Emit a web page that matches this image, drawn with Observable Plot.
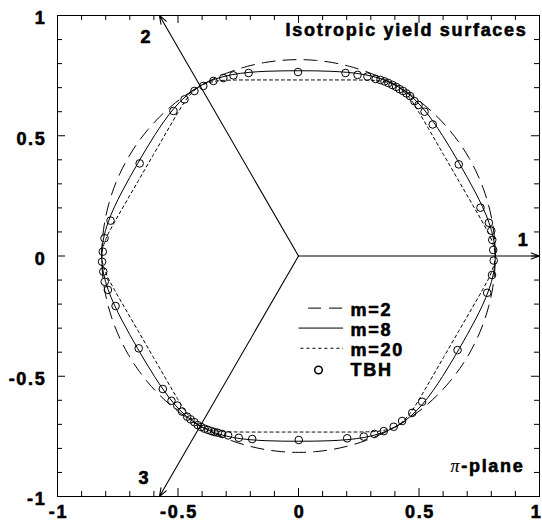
<!DOCTYPE html>
<html><head><meta charset="utf-8">
<script src="https://cdn.jsdelivr.net/npm/d3@7"></script>
<script src="https://cdn.jsdelivr.net/npm/@observablehq/plot@0.6"></script>
<style>body{margin:0;background:#fff}</style>
</head><body><div id="chart"></div>
<script>
// ---- data ----
// polar angle (deg, from axis 1) and radius of each yield locus in the pi-plane
const angles = [0,5,10,15,20,25,30,35,40,45,50,55,60,65,70,75,80,85,90,95,100,105,110,115,120,125,130,135,140,145,150,155,160,165,170,175,180,185,190,195,200,205,210,215,220,225,230,235,240,245,250,255,260,265,270,275,280,285,290,295,300,305,310,315,320,325,330,335,340,345,350,355];
const rM2 = [0.8165,0.8165,0.8165,0.8165,0.8165,0.8165,0.8165,0.8165,0.8165,0.8165,0.8165,0.8165,0.8165,0.8165,0.8165,0.8165,0.8165,0.8165,0.8165,0.8165,0.8165,0.8165,0.8165,0.8165,0.8165,0.8165,0.8165,0.8165,0.8165,0.8165,0.8165,0.8165,0.8165,0.8165,0.8165,0.8165,0.8165,0.8165,0.8165,0.8165,0.8165,0.8165,0.8165,0.8165,0.8165,0.8165,0.8165,0.8165,0.8165,0.8165,0.8165,0.8165,0.8165,0.8165,0.8165,0.8165,0.8165,0.8165,0.8165,0.8165,0.8165,0.8165,0.8165,0.8165,0.8165,0.8165,0.8165,0.8165,0.8165,0.8165,0.8165,0.8165];
const rM8 = [0.8165,0.8125,0.8025,0.7904,0.7798,0.7728,0.7703,0.7728,0.7798,0.7904,0.8025,0.8125,
             0.8165,0.8125,0.8025,0.7904,0.7798,0.7728,0.7703,0.7728,0.7798,0.7904,0.8025,0.8125,
             0.8165,0.8125,0.8025,0.7904,0.7798,0.7728,0.7703,0.7728,0.7798,0.7904,0.8025,0.8125,
             0.8165,0.8125,0.8025,0.7904,0.7798,0.7728,0.7703,0.7728,0.7798,0.7904,0.8025,0.8125,
             0.8165,0.8125,0.8025,0.7904,0.7798,0.7728,0.7703,0.7728,0.7798,0.7904,0.8025,0.8125,
             0.8165,0.8125,0.8025,0.7904,0.7798,0.7728,0.7703,0.7728,0.7798,0.7904,0.8025,0.8125];
const rM20 = [0.8165,0.8027,0.7784,0.7578,0.7433,0.7348,0.7320,0.7348,0.7433,0.7578,0.7784,0.8027,
              0.8165,0.8027,0.7784,0.7578,0.7433,0.7348,0.7320,0.7348,0.7433,0.7578,0.7784,0.8027,
              0.8165,0.8027,0.7784,0.7578,0.7433,0.7348,0.7320,0.7348,0.7433,0.7578,0.7784,0.8027,
              0.8165,0.8027,0.7784,0.7578,0.7433,0.7348,0.7320,0.7348,0.7433,0.7578,0.7784,0.8027,
              0.8165,0.8027,0.7784,0.7578,0.7433,0.7348,0.7320,0.7348,0.7433,0.7578,0.7784,0.8027,
              0.8165,0.8027,0.7784,0.7578,0.7433,0.7348,0.7320,0.7348,0.7433,0.7578,0.7784,0.8027];
// TBH points
const tbhX = [0.808,0.804,0.800,0.790,0.755,0.665,0.557,0.523,0.498,0.481,0.463,0.448,0.434,0.419,0.405,0.390,0.373,0.357,0.340,0.320,0.286,0.245,0.195,-0.002,-0.207,-0.270,-0.312,-0.353,-0.395,-0.432,-0.473,-0.519,-0.659,-0.780,-0.805,-0.812,-0.815,-0.810,-0.804,-0.791,-0.759,-0.663,-0.563,-0.527,-0.503,-0.483,-0.462,-0.448,-0.432,-0.418,-0.404,-0.390,-0.376,-0.362,-0.349,-0.335,-0.317,-0.292,-0.248,-0.192,0.001,0.202,0.271,0.315,0.354,0.395,0.430,0.472,0.513,0.660,0.783,0.803,0.810];
const tbhY = [0.025,0.067,0.105,0.138,0.201,0.381,0.547,0.600,0.628,0.644,0.665,0.676,0.686,0.694,0.703,0.711,0.719,0.726,0.732,0.736,0.746,0.753,0.761,0.765,0.761,0.751,0.740,0.728,0.707,0.686,0.651,0.603,0.385,0.147,0.074,0.018,-0.024,-0.065,-0.107,-0.141,-0.208,-0.384,-0.553,-0.602,-0.622,-0.647,-0.668,-0.679,-0.691,-0.703,-0.711,-0.718,-0.723,-0.728,-0.732,-0.735,-0.740,-0.746,-0.756,-0.761,-0.765,-0.758,-0.751,-0.740,-0.728,-0.710,-0.686,-0.652,-0.606,-0.391,-0.153,-0.079,-0.019];
// principal axes drawn as arrows from the origin
const axisNames = ["1","2","3"];
const axisTipX = [1, -0.577, -0.577];
const axisTipY = [0, 1, -1];
// ticks
const majorTicks = [-1,-0.5,0,0.5,1];
const minorTicks = [-0.9,-0.8,-0.7,-0.6,-0.4,-0.3,-0.2,-0.1,0.1,0.2,0.3,0.4,0.6,0.7,0.8,0.9];
// texts
const seriesNames = ["m=2","m=8","m=20"];
const pointName = "TBH";
const titleText = "Isotropic yield surfaces";
const planeText = "π-plane";

// ---- build ----
const W = 542, H = 521, mT = 15, mR = 3, mB = 25, mL = 57;
const plotW = W - mL - mR, plotH = H - mT - mB;
const FONT = "'Liberation Sans', Arial, Helvetica, sans-serif";
const TXT = {fontSize: 18, fontWeight: "bold", fontFamily: FONT, fill: "black", stroke: "black", strokeWidth: 0.6};
const toXY = (r) => angles.map((a, i) => ({x: r[i] * Math.cos(a * Math.PI / 180), y: r[i] * Math.sin(a * Math.PI / 180)}));
const curves = [toXY(rM2), toXY(rM8), toXY(rM20)];
const dashes = ["13,8", null, "3,3"];
const tbh = tbhX.map((x, i) => ({x, y: tbhY[i]}));

// legend layout (data units)
const legY = [-0.225, -0.308, -0.392, -0.474];
const legX0 = [0.04, 0.0, 0.008], legX1 = 0.185, legTextX = 0.216, legDotX = 0.083;

const labelOff = [[-16,-16],[-13,22],[-15,-18]];
const innerTicks = majorTicks.slice(0, -1);
const lastTick = majorTicks.slice(-1);

const marks = [
  Plot.frame({stroke: "black", strokeWidth: 1}),
  // inward ticks on all four sides
  Plot.ruleX(minorTicks, {x: d => d, insetTop: plotH - 5, stroke: "black"}),
  Plot.ruleX(minorTicks, {x: d => d, insetBottom: plotH - 5, stroke: "black"}),
  Plot.ruleX(majorTicks, {x: d => d, insetTop: plotH - 8, stroke: "black"}),
  Plot.ruleX(majorTicks, {x: d => d, insetBottom: plotH - 8, stroke: "black"}),
  Plot.ruleY(minorTicks, {y: d => d, insetRight: plotW - 5, stroke: "black"}),
  Plot.ruleY(minorTicks, {y: d => d, insetLeft: plotW - 5, stroke: "black"}),
  Plot.ruleY(majorTicks, {y: d => d, insetRight: plotW - 8, stroke: "black"}),
  Plot.ruleY(majorTicks, {y: d => d, insetLeft: plotW - 8, stroke: "black"}),
  // tick labels
  Plot.text(innerTicks, {x: d => d, frameAnchor: "bottom", lineAnchor: "top", dy: 9, dx: 1, text: d => String(d), ...TXT}),
  Plot.text(lastTick, {x: d => d, frameAnchor: "bottom", lineAnchor: "top", textAnchor: "end", dy: 9, dx: 3, text: d => String(d), ...TXT}),
  Plot.text(majorTicks, {y: d => d, frameAnchor: "left", textAnchor: "end", dx: -11, dy: 3, text: d => String(d), ...TXT}),
  // axes arrows
  Plot.arrow(axisNames, {x1: 0, y1: 0, x2: (d, i) => axisTipX[i], y2: (d, i) => axisTipY[i], headLength: 12, headAngle: 40, stroke: "black", strokeWidth: 1.1}),
  ...axisNames.map((n, i) => Plot.text([n], {x: () => axisTipX[i], y: () => axisTipY[i], text: d => d, dx: labelOff[i][0], dy: labelOff[i][1], ...TXT})),
  // yield loci
  ...curves.map((c, i) => Plot.line(c, {x: "x", y: "y", curve: "catmull-rom-closed", stroke: "black", strokeWidth: 1, strokeDasharray: dashes[i]})),
  Plot.dot(tbh, {x: "x", y: "y", r: 3.8, stroke: "black", fill: "none", strokeWidth: 1}),
  // legend
  ...seriesNames.map((s, i) => Plot.link([s], {x1: legX0[i], x2: legX1, y1: legY[i], y2: legY[i], dy: -2, stroke: "black", strokeWidth: 1, strokeDasharray: dashes[i]})),
  Plot.dot([pointName], {x: legDotX, y: legY[3], r: 3.8, stroke: "black", fill: "none"}),
  Plot.text([...seriesNames, pointName], {x: legTextX, y: (d, i) => legY[i], text: d => d, textAnchor: "start", lineAnchor: "middle", ...TXT}),
  // titles
  Plot.text([titleText], {frameAnchor: "top-right", text: d => d, textAnchor: "end", lineAnchor: "top", dx: -12, dy: 8, ...TXT}),
  Plot.text([planeText], {frameAnchor: "bottom-right", text: d => d, textAnchor: "end", lineAnchor: "bottom", dx: -15, dy: -25, ...TXT})
];

const chart = Plot.plot({
  width: W, height: H,
  marginTop: mT, marginRight: mR, marginBottom: mB, marginLeft: mL,
  x: {domain: [-1, 1], axis: null},
  y: {domain: [-1, 1], axis: null},
  style: {background: "white", color: "black", fontFamily: FONT, letterSpacing: "1.7px"},
  marks
});
document.getElementById("chart").appendChild(chart);

// render the pi as an italic serif symbol
chart.querySelectorAll("text").forEach(t => {
  if (t.textContent === planeText) {
    t.textContent = "";
    const ns = "http://www.w3.org/2000/svg";
    const a = document.createElementNS(ns, "tspan");
    a.setAttribute("font-family", "'Liberation Serif', 'DejaVu Serif', serif");
    a.setAttribute("font-style", "italic");
    a.setAttribute("font-weight", "normal");
    a.setAttribute("stroke-width", "0.2");
    a.textContent = "π";
    const b = document.createElementNS(ns, "tspan");
    b.textContent = "-plane";
    t.appendChild(a); t.appendChild(b);
  }
});
</script>
</body></html>
